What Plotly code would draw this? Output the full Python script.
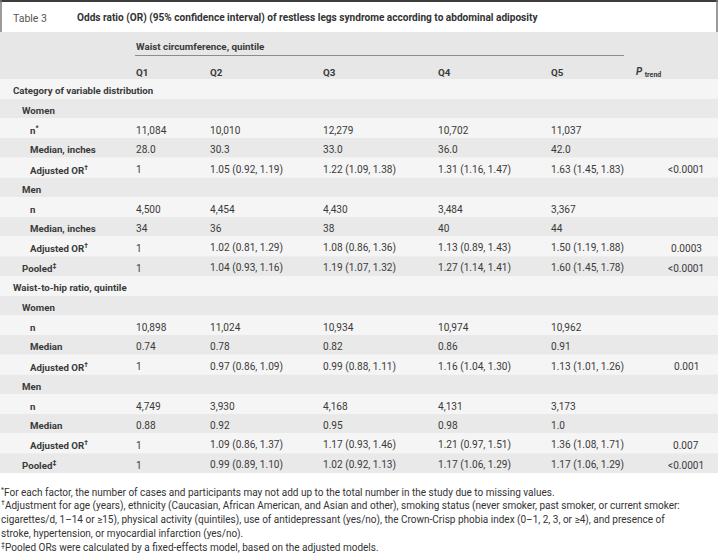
import plotly.graph_objects as go

W, H = 718, 553

# ---- data ----
title_label = "Table 3"
title_text = "Odds ratio (OR) (95% confidence interval) of restless legs syndrome according to abdominal adiposity"
group_header = "Waist circumference, quintile"
quintiles = ["Q1", "Q2", "Q3", "Q4", "Q5"]
p_header = "P"
p_sub = "trend"

row_labels = [
    "Category of variable distribution", "Women", "n<sup>*</sup>", "Median, inches", "Adjusted OR<sup>†</sup>",
    "Men", "n", "Median, inches", "Adjusted OR<sup>†</sup>", "Pooled<sup>‡</sup>",
    "Waist-to-hip ratio, quintile", "Women", "n", "Median", "Adjusted OR<sup>†</sup>",
    "Men", "n", "Median", "Adjusted OR<sup>†</sup>", "Pooled<sup>‡</sup>",
]
row_levels = [0, 1, 2, 2, 2, 1, 2, 2, 2, 1, 0, 1, 2, 2, 2, 1, 2, 2, 2, 1]

q1 = ["", "", "11,084", "28.0", "1", "", "4,500", "34", "1", "1",
      "", "", "10,898", "0.74", "1", "", "4,749", "0.88", "1", "1"]
q2 = ["", "", "10,010", "30.3", "1.05 (0.92, 1.19)", "", "4,454", "36", "1.02 (0.81, 1.29)", "1.04 (0.93, 1.16)",
      "", "", "11,024", "0.78", "0.97 (0.86, 1.09)", "", "3,930", "0.92", "1.09 (0.86, 1.37)", "0.99 (0.89, 1.10)"]
q3 = ["", "", "12,279", "33.0", "1.22 (1.09, 1.38)", "", "4,430", "38", "1.08 (0.86, 1.36)", "1.19 (1.07, 1.32)",
      "", "", "10,934", "0.82", "0.99 (0.88, 1.11)", "", "4,168", "0.95", "1.17 (0.93, 1.46)", "1.02 (0.92, 1.13)"]
q4 = ["", "", "10,702", "36.0", "1.31 (1.16, 1.47)", "", "3,484", "40", "1.13 (0.89, 1.43)", "1.27 (1.14, 1.41)",
      "", "", "10,974", "0.86", "1.16 (1.04, 1.30)", "", "4,131", "0.98", "1.21 (0.97, 1.51)", "1.17 (1.06, 1.29)"]
q5 = ["", "", "11,037", "42.0", "1.63 (1.45, 1.83)", "", "3,367", "44", "1.50 (1.19, 1.88)", "1.60 (1.45, 1.78)",
      "", "", "10,962", "0.91", "1.13 (1.01, 1.26)", "", "3,173", "1.0", "1.36 (1.08, 1.71)", "1.17 (1.06, 1.29)"]
p_trend = ["", "", "", "", "<0.0001", "", "", "", "0.0003", "<0.0001",
           "", "", "", "", "0.001", "", "", "", "0.007", "<0.0001"]

footnotes = [
    "<sup>*</sup>For each factor, the number of cases and participants may not add up to the total number in the study due to missing values.",
    "<sup>†</sup>Adjustment for age (years), ethnicity (Caucasian, African American, and Asian and other), smoking status (never smoker, past smoker, or current smoker:",
    "cigarettes/d, 1–14 or ≥15), physical activity (quintiles), use of antidepressant (yes/no), the Crown-Crisp phobia index (0–1, 2, 3, or ≥4), and presence of",
    "stroke, hypertension, or myocardial infarction (yes/no).",
    "<sup>‡</sup>Pooled ORs were calculated by a fixed-effects model, based on the adjusted models.",
]

# ---- layout constants (pixels) ----
FONT = "Roboto"
TXT = "#3a3a3a"
HEAD_BG = "#e7e7e7"
DARK = "#e9e9e9"
LIGHT = "#f5f5f5"

TITLE_H = 32
HEAD_BOTTOM = 79
ROW_H = 19.7
TY = 2  # vertical nudge for text centring
label_x = {0: 12, 1: 21, 2: 29}
col_x = [135, 209, 322, 437, 550]
P_X_HEAD = 635
P_X_CENTER = 686

value_cols = [q1, q2, q3, q4, q5]
n_rows = len(row_labels)

fig = go.Figure()

shapes = []
shapes.append(dict(type="rect", xref="x", yref="y", x0=0, x1=W, y0=TITLE_H, y1=HEAD_BOTTOM,
                   fillcolor=HEAD_BG, line=dict(width=0), layer="below"))
for i in range(n_rows):
    y0 = HEAD_BOTTOM + i * ROW_H
    shapes.append(dict(type="rect", xref="x", yref="y", x0=0, x1=W, y0=y0, y1=y0 + ROW_H,
                       fillcolor=LIGHT if i % 2 == 0 else DARK, line=dict(width=0), layer="below"))
shapes += [
    dict(type="line", xref="x", yref="y", x0=0, x1=W, y0=1, y1=1, line=dict(color="#3c3c3c", width=2)),
    dict(type="line", xref="x", yref="y", x0=1, x1=1, y0=0, y1=TITLE_H, line=dict(color="#7a7a7a", width=1.5)),
    dict(type="line", xref="x", yref="y", x0=717, x1=717, y0=0, y1=TITLE_H, line=dict(color="#7a7a7a", width=1.5)),
    dict(type="line", xref="x", yref="y", x0=col_x[0], x1=624, y0=55.5, y1=55.5,
         line=dict(color="#8c8c8c", width=1)),
]

ann = []


def add(text, x, y, size, color=TXT, xanchor="left"):
    ann.append(dict(text=text, x=x, y=y, xref="x", yref="y", xanchor=xanchor, yanchor="middle",
                    showarrow=False, align="left", borderpad=0,
                    font=dict(family=FONT, size=size, color=color)))


add(title_label, 12, 16 + TY, 10.5, "#555555")
add("<b>" + title_text + "</b>", 76, 16 + TY, 10.1, "#333333")
add("<b>" + group_header + "</b>", col_x[0], 44 + TY, 9.8)
for q, x in zip(quintiles, col_x):
    add("<b>" + q + "</b>", x, 70 + TY, 9.8)
add("<b><i>" + p_header + "</i></b> <sub><b>" + p_sub + "</b></sub>", P_X_HEAD, 70 + TY, 10)

for i in range(n_rows):
    yc = HEAD_BOTTOM + (i + 0.5) * ROW_H + TY
    add("<b>" + row_labels[i] + "</b>", label_x[row_levels[i]], yc, 9.7)
    for col, x in zip(value_cols, col_x):
        if col[i]:
            add(col[i], x, yc, 10.1)
    if p_trend[i]:
        add(p_trend[i], P_X_CENTER, yc, 10.1, xanchor="center")

fy = [491.5, 505.5, 519.5, 533.5, 546.5]
for t, y in zip(footnotes, fy):
    add(t, 0, y, 10.0, "#333333")

fig.update_layout(width=W, height=H, margin=dict(l=0, r=0, t=0, b=0),
                  paper_bgcolor="white", plot_bgcolor="white",
                  xaxis=dict(range=[0, W], visible=False, fixedrange=True),
                  yaxis=dict(range=[H, 0], visible=False, fixedrange=True),
                  shapes=shapes, annotations=ann, showlegend=False)
fig.write_html("out.html", config={"displayModeBar": False},
               post_script="document.body.style.margin='0';document.body.style.overflow='hidden';")
